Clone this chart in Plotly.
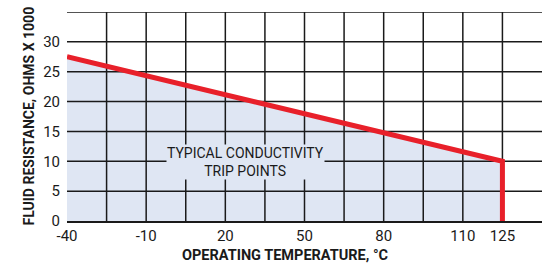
import plotly.graph_objects as go

# Data
temps = [-40, 125, 125]          # °C
resistance = [27.5, 10, 0]        # ohms x 1000
x_tick_vals = [-40, -10, 20, 50, 80, 110, 125]
x_tick_text = ["-40", "-10", "20", "50", "80", "110", "125"]
y_tick_vals = [0, 5, 10, 15, 20, 25, 30]
x_grid = [-25, -10, 5, 20, 35, 50, 65, 80, 95, 110, 125]
y_grid = [5, 10, 15, 20, 25, 30, 35]
X_RANGE = [-40, 140]
Y_RANGE = [0, 35]

FONT = "Roboto, sans-serif"
FILL = "#dfe6f3"
RED = "#e8202a"
GRID = "#1a1a1a"

fig = go.Figure()

# filled area
fig.add_trace(go.Scatter(x=temps, y=resistance, fill="tozeroy", fillcolor=FILL,
                         mode="none", hoverinfo="skip", showlegend=False))

# grid lines drawn above the fill
gx, gy = [], []
for v in x_grid:
    gx += [v, v, None]
    gy += [Y_RANGE[0], Y_RANGE[1], None]
for v in y_grid:
    gx += [X_RANGE[0], X_RANGE[1], None]
    gy += [v, v, None]
fig.add_trace(go.Scatter(x=gx, y=gy, mode="lines", line=dict(color=GRID, width=1.5),
                         hoverinfo="skip", showlegend=False, cliponaxis=False))

# red trip line
fig.add_trace(go.Scatter(x=temps, y=resistance, mode="lines",
                         line=dict(color=RED, width=5), showlegend=False))

fig.update_xaxes(range=X_RANGE, tickvals=x_tick_vals, ticktext=x_tick_text,
                 showgrid=False, zeroline=False, showline=True, linecolor=GRID,
                 linewidth=1.5, ticks="", tickfont=dict(family=FONT, size=15, color="#1a1a1a"))
fig.update_yaxes(range=Y_RANGE, tickvals=y_tick_vals, showgrid=False, zeroline=False,
                 showline=False, ticks="", ticklabelstandoff=6,
                 tickfont=dict(family=FONT, size=15, color="#1a1a1a"))

fig.add_annotation(text="TYPICAL CONDUCTIVITY<br>TRIP POINTS", x=27.7, y=9.8,
                   xref="x", yref="y", showarrow=False, bgcolor=FILL,
                   font=dict(family=FONT, size=14, color="#1a1a1a"), borderpad=0)

fig.add_annotation(text="<b>OPERATING TEMPERATURE, °C</b>", xref="paper", yref="paper",
                   x=0.459, y=-0.165, yanchor="middle", showarrow=False,
                   font=dict(family=FONT, size=14.5, color="#1a1a1a"))
fig.add_annotation(text="<b>FLUID RESISTANCE, OHMS X 1000</b>", xref="paper", yref="paper",
                   x=0, xanchor="center", y=0.5, textangle=-90, xshift=-39, showarrow=False,
                   font=dict(family=FONT, size=14, color="#1a1a1a"))

fig.update_layout(width=548, height=267, margin=dict(l=67, r=6, t=12, b=46),
                  plot_bgcolor="white", paper_bgcolor="white")

fig.write_html("out.html", config={"displayModeBar": False},
               post_script="document.body.style.margin='0';document.body.style.padding='0';document.body.style.overflow='hidden';")
